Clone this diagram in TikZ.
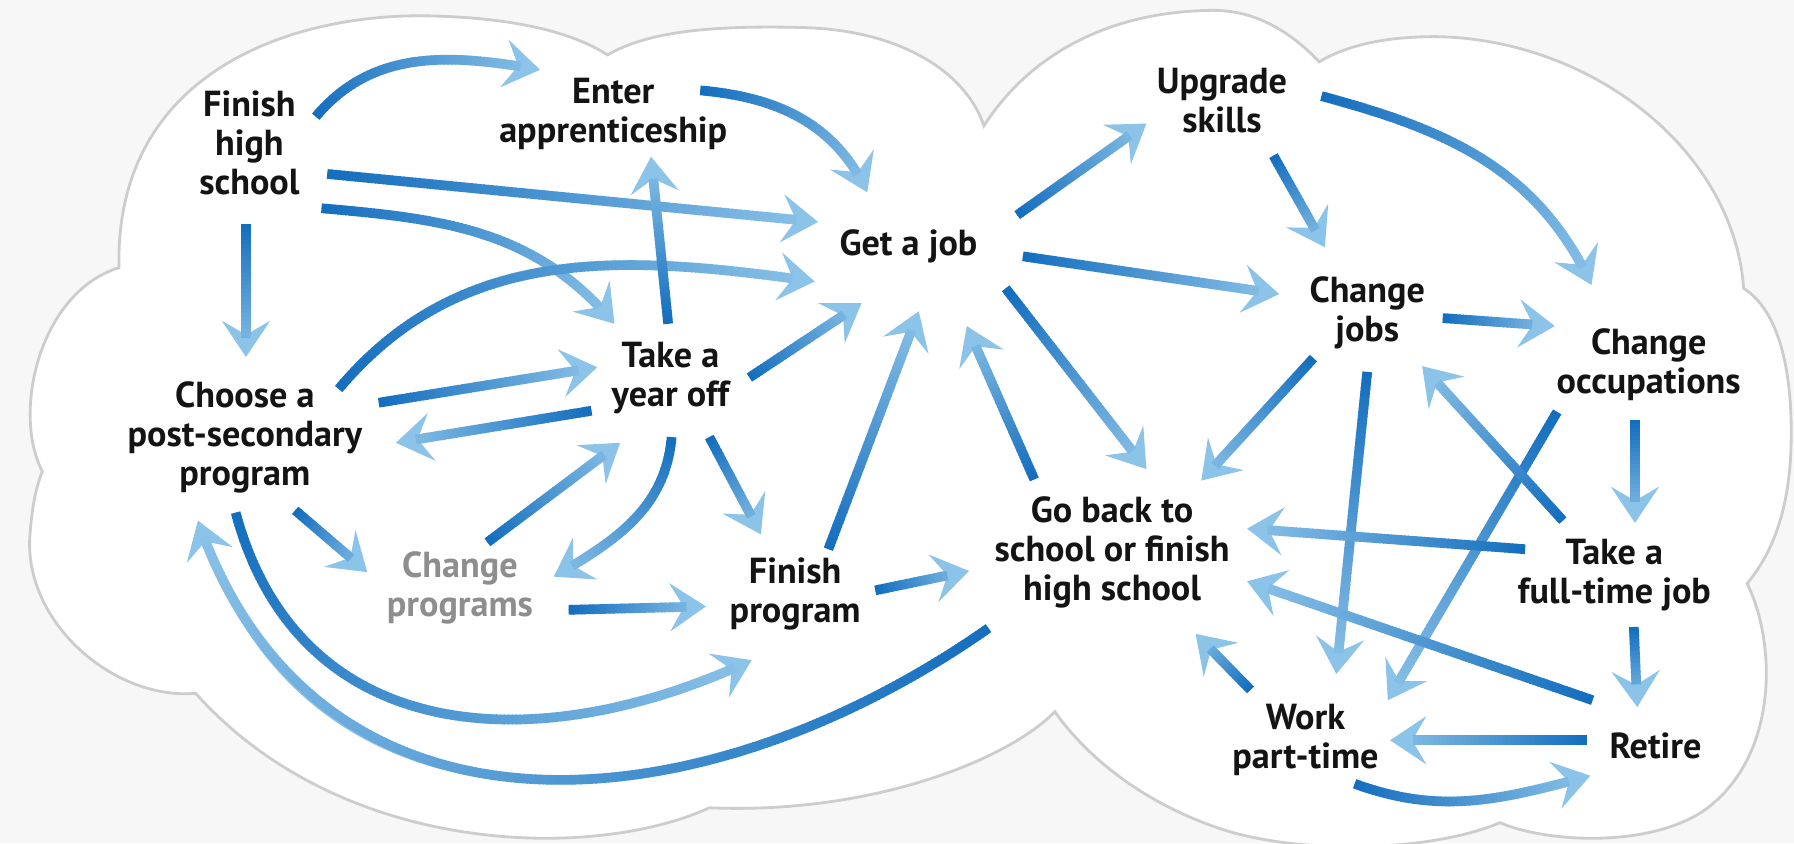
\documentclass[tikz,border=0pt]{standalone}
\usepackage{fontspec}
\setmainfont{PT Sans}
\usetikzlibrary{arrows.meta,decorations.markings}

\definecolor{deep}{HTML}{146EBE}
\definecolor{lite}{HTML}{8CC3E8}
\definecolor{ink}{HTML}{141414}
\definecolor{muted}{HTML}{8E8E8E}
\definecolor{rim}{HTML}{CDCDCD}
\definecolor{paper}{HTML}{F7F7F7}

\begin{document}
\begin{tikzpicture}[x=0.1mm, y=0.1mm,
    every node/.style={
        align=center,
        inner sep=0pt,
        text=ink,
        font=\fontsize{9pt}{9.7pt}\selectfont\bfseries
    },
    flow/.style={
        postaction={draw=lite, line width=0.6pt,
            -{Stealth[length=9pt, width=12pt, inset=3.5pt]}},
        postaction={decorate, decoration={markings,
            mark=between positions 0 and -6pt step 1pt with {
                \pgfmathsetmacro\tone{\pgfkeysvalueof{/pgf/decoration/mark info/distance from start}/\pgfdecoratedpathlength*100}
                \draw[line width=2.4pt, draw=lite!\tone!deep] (0,0) -- (1.3pt,0);
            }}}
    }]

    %cloud
    \useasboundingbox (0,0) rectangle (1568,-737);
    \fill[paper] (0,0) rectangle (1568,-737);
    \filldraw[fill=white, draw=rim, line width=0.7pt]
        (104,-234) .. controls (100,-60) and (260,-10) .. (380,-14)
        .. controls (450,-16) and (500,-28) .. (531,-48)
        .. controls (565,-28) and (620,-22) .. (700,-24)
        .. controls (790,-26) and (845,-65) .. (860,-110)
        .. controls (895,-55) and (960,-10) .. (1060,-9)
        .. controls (1100,-9) and (1130,-30) .. (1153,-54)
        .. controls (1180,-38) and (1215,-32) .. (1255,-32)
        .. controls (1390,-34) and (1515,-130) .. (1524,-252)
        .. controls (1560,-275) and (1568,-340) .. (1565,-400)
        .. controls (1562,-450) and (1548,-485) .. (1527,-510)
        .. controls (1552,-560) and (1556,-660) .. (1490,-708)
        .. controls (1440,-742) and (1350,-736) .. (1311,-719)
        .. controls (1250,-745) and (1130,-748) .. (1060,-722)
        .. controls (990,-697) and (945,-655) .. (922,-622)
        .. controls (880,-665) and (760,-712) .. (620,-706)
        .. controls (520,-752) and (300,-750) .. (171,-606)
        .. controls (100,-612) and (22,-545) .. (26,-470)
        .. controls (28,-440) and (32,-425) .. (37,-412)
        .. controls (10,-360) and (35,-255) .. cycle;

    %school
    \node (finish_school) [shift={(218,-125)}]
    {
        Finish\\high\\school
    };
    \node (apprenticeship) [shift={(536,-100)}]
    {
        Enter\\apprenticeship
    };
    \node (choose_program) [shift={(214,-382)}]
    {
        Choose a\\post-secondary\\program
    };
    \node (year_off) [shift={(586,-330)}]
    {
        Take a\\year off
    };
    \node (change_programs) [text=muted, shift={(402,-514)}]
    {
        Change\\programs
    };
    \node (finish_program) [shift={(695,-519)}]
    {
        Finish\\program
    };

    %work
    \node (get_job) [shift={(798,-215)}]
    {
        Get a job
    };
    \node (upgrade_skills) [shift={(1068,-88)}]
    {
        Upgrade\\skills
    };
    \node (change_jobs) [shift={(1195,-273)}]
    {
        Change\\jobs
    };
    \node (change_occupations) [shift={(1441,-319)}]
    {
        Change\\occupations
    };
    \node (go_back) [shift={(972,-483)}]
    {
        Go back to\\school or finish\\high school
    };
    \node (full_time_job) [shift={(1411,-503)}]
    {
        Take a\\full-time job
    };
    \node (part_time) [shift={(1141,-647)}]
    {
        Work\\part-time
    };
    \node (retire) [shift={(1451,-652)}]
    {
        Retire
    };

    %school
    \path[flow] ([shift={(58,23)}]finish_school.center) to[out=50, in=170] ([shift={(-64,39)}]apprenticeship.center);
    \path[flow] ([shift={(76,21)}]apprenticeship.center) to[out=-5, in=115] ([shift={(-40,47)}]get_job.center);
    \path[flow] ([shift={(68,-27)}]finish_school.center) to ([shift={(-83,21)}]get_job.center);
    \path[flow] ([shift={(63,-57)}]finish_school.center) to[out=-5, in=130] ([shift={(-49,47)}]year_off.center);
    \path[flow] ([shift={(-3,-71)}]finish_school.center) to ([shift={(1,70)}]choose_program.center);

    \path[flow] ([shift={(82,42)}]choose_program.center) to[out=50, in=172] ([shift={(-86,-31)}]get_job.center);
    \path[flow] ([shift={(117,30)}]choose_program.center) to ([shift={(-64,9)}]year_off.center);
    \path[flow] ([shift={(44,-64)}]choose_program.center) to ([shift={(-81,14)}]change_programs.center);
    \path[flow] ([shift={(-8,-66)}]choose_program.center) to[out=-75, in=205, looseness=1.15] ([shift={(-38,-58)}]finish_program.center);

    \path[flow] ([shift={(-2,47)}]year_off.center) to ([shift={(33,-37)}]apprenticeship.center);
    \path[flow] ([shift={(-69,-29)}]year_off.center) to ([shift={(132,-5)}]choose_program.center);
    \path[flow] ([shift={(69,0)}]year_off.center) to ([shift={(-45,-50)}]get_job.center);
    \path[flow] ([shift={(1,-52)}]year_off.center) to[out=-95, in=30] ([shift={(82,10)}]change_programs.center);
    \path[flow] ([shift={(34,-52)}]year_off.center) to ([shift={(-30,52)}]finish_program.center);

    \path[flow] ([shift={(24,40)}]change_programs.center) to ([shift={(-44,-57)}]year_off.center);
    \path[flow] ([shift={(95,-19)}]change_programs.center) to ([shift={(-78,-11)}]finish_program.center);

    \path[flow] ([shift={(29,39)}]finish_program.center) to ([shift={(5,-57)}]get_job.center);
    \path[flow] ([shift={(70,3)}]finish_program.center) to ([shift={(-125,-16)}]go_back.center);

    %work
    \path[flow] ([shift={(-68,64)}]go_back.center) to ([shift={(47,-70)}]get_job.center);
    \path[flow] ([shift={(-108,-66)}]go_back.center) to[out=215, in=-71, looseness=1.15] ([shift={(-41,-73)}]choose_program.center);

    \path[flow] ([shift={(81,-37)}]get_job.center) to ([shift={(30,73)}]go_back.center);
    \path[flow] ([shift={(91,27)}]get_job.center) to ([shift={(-66,-20)}]upgrade_skills.center);
    \path[flow] ([shift={(96,-9)}]get_job.center) to ([shift={(-77,16)}]change_jobs.center);

    \path[flow] ([shift={(45,-48)}]upgrade_skills.center) to ([shift={(-37,57)}]change_jobs.center);
    \path[flow] ([shift={(87,4)}]upgrade_skills.center) to[out=-15, in=115] ([shift={(-50,70)}]change_occupations.center);

    \path[flow] ([shift={(66,-5)}]change_jobs.center) to ([shift={(-82,34)}]change_occupations.center);
    \path[flow] ([shift={(-47,-40)}]change_jobs.center) to ([shift={(78,63)}]go_back.center);
    \path[flow] ([shift={(0,-52)}]change_jobs.center) to ([shift={(27,58)}]part_time.center);

    \path[flow] ([shift={(-12,-48)}]change_occupations.center) to ([shift={(18,46)}]full_time_job.center);
    \path[flow] ([shift={(-80,-41)}]change_occupations.center) to ([shift={(72,35)}]part_time.center);

    \path[flow] ([shift={(-45,48)}]full_time_job.center) to ([shift={(48,-47)}]change_jobs.center);
    \path[flow] ([shift={(-78,23)}]full_time_job.center) to ([shift={(118,21)}]go_back.center);
    \path[flow] ([shift={(17,-45)}]full_time_job.center) to ([shift={(-20,34)}]retire.center);

    %later
    \path[flow] ([shift={(-59,40)}]retire.center) to ([shift={(118,-25)}]go_back.center);
    \path[flow] ([shift={(-64,5)}]retire.center) to ([shift={(74,0)}]part_time.center);
    \path[flow] ([shift={(-48,44)}]part_time.center) to ([shift={(73,-71)}]go_back.center);
    \path[flow] ([shift={(43,-38)}]part_time.center) to[out=-20, in=195] ([shift={(-61,-26)}]retire.center);

\end{tikzpicture}
\end{document}
